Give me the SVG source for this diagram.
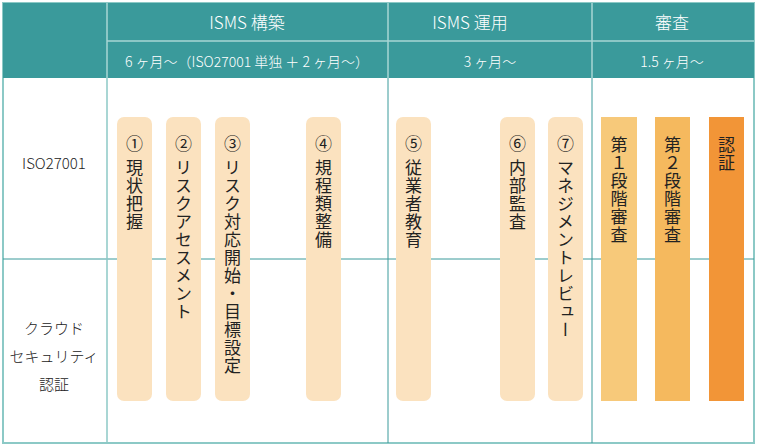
<svg xmlns="http://www.w3.org/2000/svg" width="757" height="448" viewBox="0 0 757 448">
<style>
.h{font-family:"Noto Sans CJK JP","Noto Sans",sans-serif;fill:#fff;text-anchor:middle;font-weight:300}
.l{font-family:"Noto Sans CJK JP",sans-serif;fill:#222;font-size:15px;text-anchor:middle;font-weight:300}
.v{font-family:"Noto Sans CJK JP",sans-serif;fill:#222;font-size:17px;writing-mode:vertical-rl;letter-spacing:1px}
.c{font-family:"Noto Sans CJK JP",sans-serif;fill:#222;font-size:17px;writing-mode:vertical-rl}
.bar{fill:#fbe2bf}
</style>
<rect x="3" y="3" width="751" height="440" fill="#fff" stroke="#8cc9c6" stroke-width="2"/>
<rect x="3" y="3" width="751" height="75" fill="#3a9a9b"/>
<g stroke="#a9d6d4" stroke-width="1.5">
<line x1="107" y1="41" x2="754" y2="41"/>
<line x1="107" y1="3" x2="107" y2="78"/>
<line x1="388" y1="3" x2="388" y2="78"/>
<line x1="592" y1="3" x2="592" y2="78"/>
</g>
<line x1="3" y1="259" x2="754" y2="259" stroke="#3a9a9b" stroke-width="1"/>
<line x1="107" y1="78" x2="107" y2="443" stroke="#8cc9c6" stroke-width="1.5"/>
<g stroke="#3a9a9b" stroke-width="1">
<line x1="388" y1="78" x2="388" y2="443"/>
<line x1="592" y1="78" x2="592" y2="443"/>
</g>
<g id="headers">
<text class="h" x="247" y="29" font-size="17">ISMS 構築</text>
<text class="h" x="470" y="29" font-size="17">ISMS 運用</text>
<text class="h" x="672" y="29" font-size="17">審査</text>
<text class="h" x="247" y="67" font-size="14">6 ヶ月～（ISO27001 単独 ＋ 2 ヶ月～）</text>
<text class="h" x="490" y="67" font-size="14">3 ヶ月～</text>
<text class="h" x="672" y="67" font-size="14">1.5 ヶ月～</text>
</g>
<g id="rowlabels">
<text class="l" x="54" y="169">ISO27001</text>
<text class="l" x="54" y="334">クラウド</text>
<text class="l" x="54" y="362">セキュリティ</text>
<text class="l" x="54" y="390">認証</text>
</g>
<g id="n1"><rect class="bar" x="117" y="117" width="35" height="284" rx="7"/><text class="c" x="134.5" y="135">①</text><text class="v" x="134.5" y="159">現状把握</text></g>
<g id="n2"><rect class="bar" x="166" y="117" width="35" height="284" rx="7"/><text class="c" x="183.5" y="135">②</text><text class="v" x="183.5" y="159">リスクアセスメント</text></g>
<g id="n3"><rect class="bar" x="215" y="117" width="35" height="284" rx="7"/><text class="c" x="232.5" y="135">③</text><text class="v" x="232.5" y="159">リスク対応開始・目標設定</text></g>
<g id="n4"><rect class="bar" x="306" y="117" width="35" height="284" rx="7"/><text class="c" x="323.5" y="135">④</text><text class="v" x="323.5" y="159">規程類整備</text></g>
<g id="n5"><rect class="bar" x="396" y="117" width="35" height="284" rx="7"/><text class="c" x="413.5" y="135">⑤</text><text class="v" x="413.5" y="159">従業者教育</text></g>
<g id="n6"><rect class="bar" x="500" y="117" width="35" height="284" rx="7"/><text class="c" x="517.5" y="135">⑥</text><text class="v" x="517.5" y="159">内部監査</text></g>
<g id="n7"><rect class="bar" x="548" y="117" width="35" height="284" rx="7"/><text class="c" x="565.5" y="135">⑦</text><text class="v" x="565.5" y="159">マネジメントレビュー</text></g>
<g id="n8"><rect x="601" y="117" width="36" height="284" fill="#f7c97a"/><text class="v" x="619" y="136">第１段階審査</text></g>
<g id="n9"><rect x="655" y="117" width="35" height="284" fill="#f5b95e"/><text class="v" x="672.5" y="136">第２段階審査</text></g>
<g id="n10"><rect x="709" y="117" width="35" height="284" fill="#f29537"/><text class="v" x="726.5" y="136">認証</text></g>
</svg>
